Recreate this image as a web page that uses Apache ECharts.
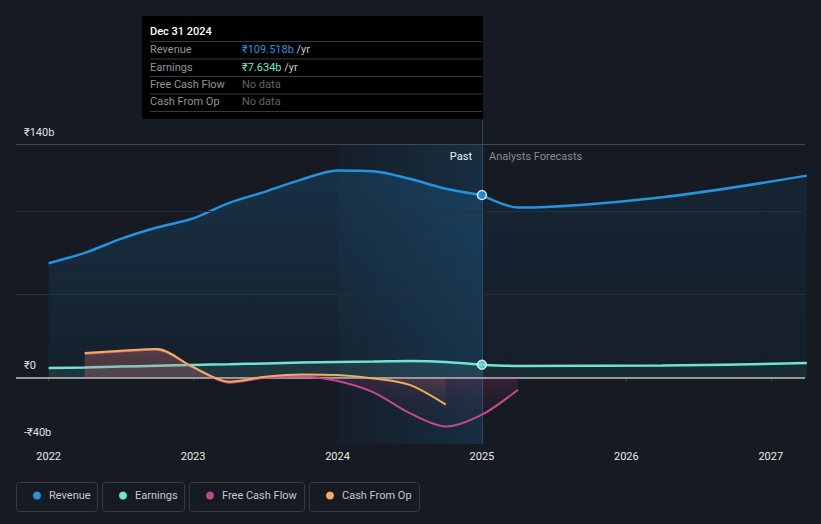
<!DOCTYPE html>
<html>
<head>
<meta charset="utf-8">
<script src="https://cdn.jsdelivr.net/npm/echarts@6/dist/echarts.min.js"></script>
<style>
html,body{margin:0;padding:0;background:#151a23;}
#chart{width:821px;height:524px;}
</style>
</head>
<body>
<div id="chart"></div>
<script>
// ---- data (decimal years, values in ₹ billions) ----
const pastDates = [2022.0, 2022.25, 2022.5, 2022.75, 2023.0, 2023.25, 2023.5, 2023.75, 2024.0, 2024.25, 2024.5, 2024.75, 2025.0];
const revenuePast = [68.6, 74.8, 83.2, 90.0, 95.5, 104.8, 111.6, 118.8, 124.3, 123.8, 119.3, 113.3, 109.518];
const earningsPast = [5.6, 6.0, 6.5, 7.0, 7.5, 7.9, 8.4, 8.9, 9.3, 9.5, 9.8, 9.3, 7.634];

const forecastDates = [2025.0, 2025.25, 2026.25, 2027.25];
const revenueForecast = [109.518, 102.0, 108.2, 121.2];
const earningsForecast = [7.634, 6.9, 7.1, 8.6];

const fcfDates = [2022.25, 2022.5, 2022.75, 2023.0, 2023.25, 2023.5, 2023.75, 2024.0, 2024.25, 2024.5, 2024.75, 2025.0, 2025.25];
const fcfValues = [14.2, 15.6, 16.6, 6.0, -3.2, -0.2, 0.6, -2.2, -9.0, -21.5, -29.5, -22.4, -7.4];

const cfoDates = [2022.25, 2022.5, 2022.75, 2023.0, 2023.25, 2023.5, 2023.75, 2024.0, 2024.25, 2024.5, 2024.75];
const cfoValues = [14.6, 16.0, 17.0, 6.2, -2.6, 0.4, 1.8, 1.4, -0.6, -4.5, -16.4];

const yearTicks = [2022, 2023, 2024, 2025, 2026, 2027];
const yLabelValues = [-40, 0, 140];
const gridValuesDim = [50, 100];
const gridValueTop = 140;
const yMin = -40;
const bandStart = 2024, bandEnd = 2025;
const highlightDate = 2025.0;
const highlightRevenue = 109.518, highlightEarnings = 7.634;

const legendNames = ['Revenue', 'Earnings', 'Free Cash Flow', 'Cash From Op'];
const tooltipRows = [
  ['Revenue', '₹109.518b', '#2394df'],
  ['Earnings', '₹7.634b', '#6ee5d3'],
  ['Free Cash Flow', null, null],
  ['Cash From Op', null, null]
];

// ---- style ----
const C = {rev:'#2394df', earn:'#6ee5d3', fcf:'#c7478f', cfo:'#efae5d'};
const FONT = 'Roboto, "DejaVu Sans", sans-serif';
const zip = (xs, ys) => xs.map((x, i) => [x, ys[i]]);
const grad = (stops) => ({type:'linear', x:0, y:0, x2:0, y2:1, colorStops: stops.map(s => ({offset:s[0], color:s[1]}))});
const hgrad = (stops) => ({type:'linear', x:0, y:0, x2:1, y2:0, colorStops: stops.map(s => ({offset:s[0], color:s[1]}))});

const chart = echarts.init(document.getElementById('chart'), null, {renderer:'svg'});

const legendBoxes = [[16,81],[102,82],[189,115],[309,110]];
const legendColors = [C.rev, C.earn, C.fcf, C.cfo];

const graphics = [];
legendBoxes.forEach(b => graphics.push({type:'rect', shape:{x:b[0]+0.5, y:482.5, width:b[1], height:29, r:3}, style:{fill:'transparent', stroke:'#363c46', lineWidth:1}, z:-1}));
// tooltip box
graphics.push({type:'rect', shape:{x:142, y:16, width:341, height:103}, style:{fill:'#000'}, z:10});
graphics.push({type:'text', x:150, y:31, style:{text:'Dec 31 2024', fill:'#fff', font:'500 11px ' + FONT, verticalAlign:'middle'}, z:11});
const sepY = [41, 58.5, 76, 93.5, 111];
sepY.forEach(y => graphics.push({type:'line', shape:{x1:150, y1:y+0.5, x2:482, y2:y+0.5}, style:{stroke:'#3a3a3a', lineWidth:1}, z:11}));
const rowY = [49.5, 67, 84.5, 101.5];
tooltipRows.forEach((r, i) => {
  graphics.push({type:'text', x:150, y:rowY[i], style:{text:r[0], fill:'#8f949a', font:'11px ' + FONT, verticalAlign:'middle'}, z:11});
  if (r[1]) {
    graphics.push({type:'text', x:242, y:rowY[i], style:{text:'{v|' + r[1] + '} {u|/yr}', verticalAlign:'middle', font:'11px ' + FONT,
      rich:{v:{fill:r[2], font:'11px ' + FONT}, u:{fill:'#c5c9ce', font:'11px ' + FONT}}}, z:11});
  } else {
    graphics.push({type:'text', x:242, y:rowY[i], style:{text:'No data', fill:'#5f646a', font:'11px ' + FONT, verticalAlign:'middle'}, z:11});
  }
});
graphics.push({type:'text', x:472, y:156, style:{text:'Past', fill:'#f0f0f0', font:'11px ' + FONT, align:'right', verticalAlign:'middle'}, z:5});
graphics.push({type:'text', x:489, y:156, style:{text:'Analysts Forecasts', fill:'#858a91', font:'11px ' + FONT, align:'left', verticalAlign:'middle'}, z:5});

const legends = legendNames.map((n, i) => ({
  data:[{name:n, icon:'circle', itemStyle:{color:legendColors[i]}}],
  left: legendBoxes[i][0] + 12, top: 485,
  itemWidth:8, itemHeight:8, selectedMode:false,
  textStyle:{color:'#c5c9ce', fontSize:11, fontFamily:FONT, padding:[0,0,0,3]}
}));

const option = {
  backgroundColor:'#151a23',
  animation:false,
  textStyle:{fontFamily:FONT},
  grid:{left:16, right:16, top:120, bottom:80},
  legend: legends,
  xAxis:{
    type:'value', min:2021.774, max:2027.237,
    axisLine:{show:true, lineStyle:{color:'#3a3f48', width:1}},
    axisTick:{show:true, customValues:yearTicks, length:4, lineStyle:{color:'#3a3f48'}},
    axisLabel:{customValues:yearTicks, color:'#eaeaea', fontSize:11, margin:7, formatter:v => String(Math.round(v))},
    splitLine:{show:false}
  },
  yAxis:{
    type:'value', min:yMin, max:154.6,
    axisLine:{show:false}, axisTick:{show:false}, splitLine:{show:false},
    axisLabel:{customValues:yLabelValues, inside:true, margin:8, color:'#e0e0e0', fontSize:11, verticalAlign:'bottom', padding:[0,0,6,0],
      formatter:v => v < 0 ? '-₹' + (-v) + 'b' : (v === 0 ? '₹0' : '₹' + v + 'b')}
  },
  graphic: graphics,
  series:[
    {name:'Revenue', type:'line', data:zip(pastDates, revenuePast), smooth:0.3, symbol:'none', z:3,
      lineStyle:{color:C.rev, width:2.5}, itemStyle:{color:C.rev},
      areaStyle:{origin:'auto', color:grad([[0,'rgba(35,148,223,0.26)'],[1,'rgba(35,148,223,0.06)']])},
      markArea:{silent:true, itemStyle:{color:hgrad([[0,'rgba(35,148,223,0.03)'],[1,'rgba(35,148,223,0.16)']])},
        data:[[{coord:[bandStart, gridValueTop]},{coord:[bandEnd, yMin]}]]},
      markLine:{silent:true, symbol:'none', label:{show:false}, animation:false,
        data:[
          ...gridValuesDim.map(v => ({yAxis:v, lineStyle:{color:'#272e38', width:1, type:'solid'}})),
          {yAxis:gridValueTop, lineStyle:{color:'#43484f', width:1, type:'solid'}},
          {xAxis:highlightDate, lineStyle:{color:'#2b4a66', width:1, type:'solid'}}
        ]}
    },
    {name:'Revenue', type:'line', data:zip(forecastDates, revenueForecast), smooth:0.3, symbol:'none', z:3,
      lineStyle:{color:C.rev, width:2.5}, itemStyle:{color:C.rev},
      areaStyle:{origin:'auto', color:grad([[0,'rgba(35,148,223,0.12)'],[1,'rgba(35,148,223,0.05)']])}
    },
    {name:'Earnings', type:'line', data:zip(pastDates, earningsPast), smooth:0.3, symbol:'none', z:4,
      lineStyle:{color:C.earn, width:2.5}, itemStyle:{color:C.earn},
      areaStyle:{origin:'auto', color:'rgba(110,229,211,0.16)'}
    },
    {name:'Earnings', type:'line', data:zip(forecastDates, earningsForecast), smooth:0.3, symbol:'none', z:4,
      lineStyle:{color:C.earn, width:2.5}, itemStyle:{color:C.earn},
      areaStyle:{origin:'auto', color:'rgba(110,229,211,0.09)'}
    },
    {name:'Free Cash Flow', type:'line', data:zip(fcfDates, fcfValues), smooth:0.3, symbol:'none', z:5,
      lineStyle:{color:C.fcf, width:2}, itemStyle:{color:C.fcf},
      areaStyle:{origin:'auto', color:grad([[0,'rgba(199,71,143,0.28)'],[0.37,'rgba(199,71,143,0.24)'],[0.7,'rgba(199,71,143,0.08)'],[1,'rgba(199,71,143,0.0)']])},
      markLine:{silent:true, symbol:'none', label:{show:false}, animation:false,
        data:[{yAxis:0, lineStyle:{color:'#bdbdbd', width:1.5, type:'solid'}}]}
    },
    {name:'Cash From Op', type:'line', data:zip(cfoDates, cfoValues), smooth:0.3, symbol:'none', z:6,
      lineStyle:{color:C.cfo, width:2}, itemStyle:{color:C.cfo},
      areaStyle:{origin:'auto', color:grad([[0,'rgba(239,174,93,0.2)'],[0.5,'rgba(239,174,93,0.15)'],[1,'rgba(239,174,93,0.03)']])}
    },
    {name:'marker', type:'scatter', z:8, symbol:'circle', symbolSize:9,
      data:[
        {value:[highlightDate, highlightRevenue], itemStyle:{color:C.rev, borderColor:'#fff', borderWidth:1.5}},
        {value:[highlightDate, highlightEarnings], itemStyle:{color:C.earn, borderColor:'#fff', borderWidth:1.5}}
      ]}
  ]
};
chart.setOption(option);
</script>
</body>
</html>
